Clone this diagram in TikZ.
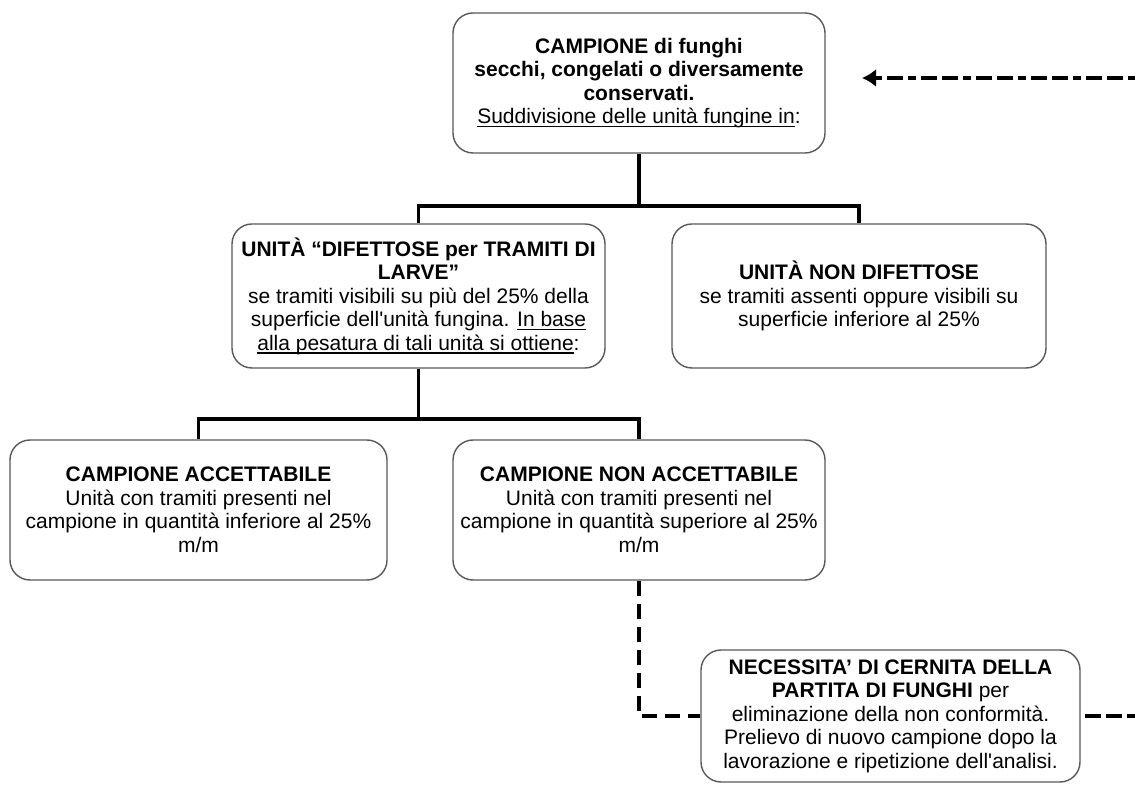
\documentclass[tikz,border=0pt]{standalone}
\usepackage{fontspec}
\setmainfont{Liberation Sans}
\usetikzlibrary{arrows.meta}
\newcommand\myul[1]{\setbox0\hbox{#1}\rlap{\rule[-1.7pt]{\wd0}{0.55pt}}\box0}
\begin{document}
\begin{tikzpicture}[x=0.5pt,y=-0.5pt,
  box/.style={draw=black!65, line width=0.7pt, rounded corners=10pt, align=center,
    font=\fontsize{10.5pt}{11.75pt}\selectfont, inner sep=0pt, fill=white},
  tree/.style={line width=1.9pt, line join=miter},
  dashline/.style={line width=1.7pt, dash pattern=on 7.5pt off 4pt},
  dashdotline/.style={line width=2pt,
    dash pattern=on 8pt off 2.5pt on 8pt off 2.5pt on 4pt off 2.5pt,
    -{Latex[length=7pt,width=9pt]}}]
\fill[white] (0,0) rectangle (1135,790);
\useasboundingbox (0,0) rectangle (1135,790);

\node[box, minimum width=186pt, minimum height=70pt] (top) at (639,83)
  {\textbf{CAMPIONE di funghi}\\
   \textbf{secchi, congelati o diversamente}\\
   \textbf{conservati.}\\
   \myul{Suddivisione delle unità fungine in}:};

\node[box, minimum width=186.5pt, minimum height=72pt] (ml) at (418.5,296)
  {\textbf{UNITÀ “DIFETTOSE per TRAMITI DI}\\
   \textbf{LARVE”}\\
   se tramiti visibili su più del 25\% della\\
   superficie dell\textquotesingle unità fungina. \myul{In base}\\
   \myul{alla pesatura di tali unità si ottiene}:};

\node[box, minimum width=187pt, minimum height=72pt] (mr) at (859,296)
  {\textbf{UNITÀ NON DIFETTOSE}\\
   se tramiti assenti oppure visibili su\\
   superficie inferiore al 25\%};

\node[box, minimum width=188.5pt, minimum height=70pt] (bl) at (198.5,510)
  {\textbf{CAMPIONE ACCETTABILE}\\
   Unità con tramiti presenti nel\\
   campione in quantità inferiore al 25\%\\
   m/m};

\node[box, minimum width=186pt, minimum height=70pt] (bm) at (639,510)
  {\textbf{CAMPIONE NON ACCETTABILE}\\
   Unità con tramiti presenti nel\\
   campione in quantità superiore al 25\%\\
   m/m};

\node[box, minimum width=189.5pt, minimum height=66pt] (br) at (890.5,716)
  {\textbf{NECESSITA’ DI CERNITA DELLA}\\
   \textbf{PARTITA DI FUNGHI} per\\
   eliminazione della non conformità.\\
   Prelievo di nuovo campione dopo la\\
   lavorazione e ripetizione dell\textquotesingle analisi.};

\coordinate (j1) at (639,206);
\coordinate (j2) at (418.5,419);
\coordinate (tip) at (862,78);
\coordinate (far) at (1170,400);

\draw[tree] (top.south) -- (j1) -| (ml.north);
\draw[tree] (j1) -| (mr.north);
\draw[tree] (ml.south) -- (j2) -| (bl.north);
\draw[tree] (j2) -| (bm.north);

\draw[dashline] (bm.south) |- (br.west);

\begin{scope}
\clip (0,0) rectangle (1135,790);
\draw[dashdotline] ([xshift=2pt]br.east) -- (far |- br.east) -- (far |- tip) -- (tip);
\end{scope}
\end{tikzpicture}
\end{document}
